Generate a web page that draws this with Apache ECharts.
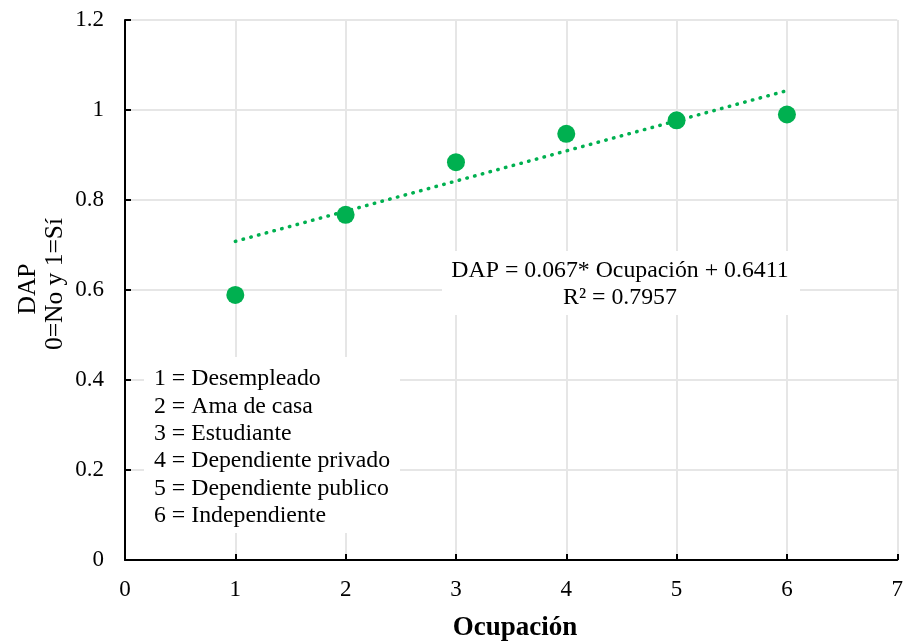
<!DOCTYPE html>
<html><head><meta charset="utf-8">
<script src="https://cdn.jsdelivr.net/npm/echarts@6/dist/echarts.min.js"></script>
<style>html,body{margin:0;padding:0;background:#fff}#c{width:906px;height:641px}</style>
</head><body><div id="c"></div>
<script>
// Data
var occupation = [1, 2, 3, 4, 5, 6];
var dap = [0.589, 0.767, 0.884, 0.947, 0.977, 0.990];
var trendX = [1, 6];
var slope = 0.067, intercept = 0.6411;
var legendLines = ['1 = Desempleado', '2 = Ama de casa', '3 = Estudiante', '4 = Dependiente privado', '5 = Dependiente publico', '6 = Independiente'];
var equationLines = ['DAP = 0.067* Ocupación + 0.6411', 'R² = 0.7957'];
var xTitle = 'Ocupación';
var yTitle1 = 'DAP';
var yTitle2 = '0=No y 1=Sí';

var FONT = '"Liberation Serif", "Times New Roman", serif';
var chart = echarts.init(document.getElementById('c'));
var trendData = trendX.map(function (x) { return [x, +(slope * x + intercept).toFixed(4)]; });
var pts = occupation.map(function (x, i) { return [x, dap[i]]; });

var graphics = [
  { type: 'rect', z: 1, shape: { x: 144, y: 357, width: 256, height: 176 }, style: { fill: '#fff' } },
  { type: 'rect', z: 1, shape: { x: 442, y: 251, width: 358, height: 64 }, style: { fill: '#fff' } },
  { type: 'text', z: 2, x: 28, y: 289, rotation: Math.PI / 2, style: { text: yTitle1, font: '25.5px ' + FONT, fill: '#000', textAlign: 'center', textVerticalAlign: 'middle' } },
  { type: 'text', z: 2, x: 55, y: 284, rotation: Math.PI / 2, style: { text: yTitle2, font: '25.5px ' + FONT, fill: '#000', textAlign: 'center', textVerticalAlign: 'middle' } },
  { type: 'text', z: 2, x: 515, y: 628, style: { text: xTitle, font: 'bold 27px ' + FONT, fill: '#000', textAlign: 'center', textVerticalAlign: 'middle' } }
];
legendLines.forEach(function (t, i) {
  graphics.push({ type: 'text', z: 2, x: 154, y: 379 + i * 27.4, style: { text: t, font: '23.8px ' + FONT, fill: '#000', textAlign: 'left', textVerticalAlign: 'middle' } });
});
equationLines.forEach(function (t, i) {
  graphics.push({ type: 'text', z: 2, x: 620, y: 271 + i * 27, style: { text: t, font: '23.8px ' + FONT, fill: '#000', textAlign: 'center', textVerticalAlign: 'middle' } });
});

chart.setOption({
  animation: false,
  backgroundColor: '#fff',
  grid: { left: 125, right: 6, top: 20, bottom: 81, containLabel: false },
  xAxis: {
    type: 'value', min: 0, max: 7, interval: 1,
    axisLine: { show: true, onZero: false, lineStyle: { color: '#000', width: 2 } },
    axisTick: { show: true, inside: true, length: 6, lineStyle: { color: '#000', width: 2 } },
    axisLabel: { color: '#000', fontFamily: FONT, fontSize: 23, margin: 18 },
    splitLine: { show: true, lineStyle: { color: '#e6e6e6', width: 2 } }
  },
  yAxis: {
    type: 'value', min: 0, max: 1.2, interval: 0.2,
    axisLine: { show: true, lineStyle: { color: '#000', width: 2 } },
    axisTick: { show: true, inside: true, length: 6, lineStyle: { color: '#000', width: 2 } },
    axisLabel: { color: '#000', fontFamily: FONT, fontSize: 23, margin: 21,
      formatter: function (v) { return String(+v.toFixed(1)); } },
    splitLine: { show: true, lineStyle: { color: '#e6e6e6', width: 2 } }
  },
  series: [
    { type: 'line', data: trendData, symbol: 'none', z: 3,
      lineStyle: { color: '#00b050', width: 3.5, type: [0.5, 7.5], cap: 'round' } },
    { type: 'scatter', data: pts, symbolSize: 18, z: 4, itemStyle: { color: '#00b050', opacity: 1 } }
  ],
  graphic: graphics
});
</script></body></html>
